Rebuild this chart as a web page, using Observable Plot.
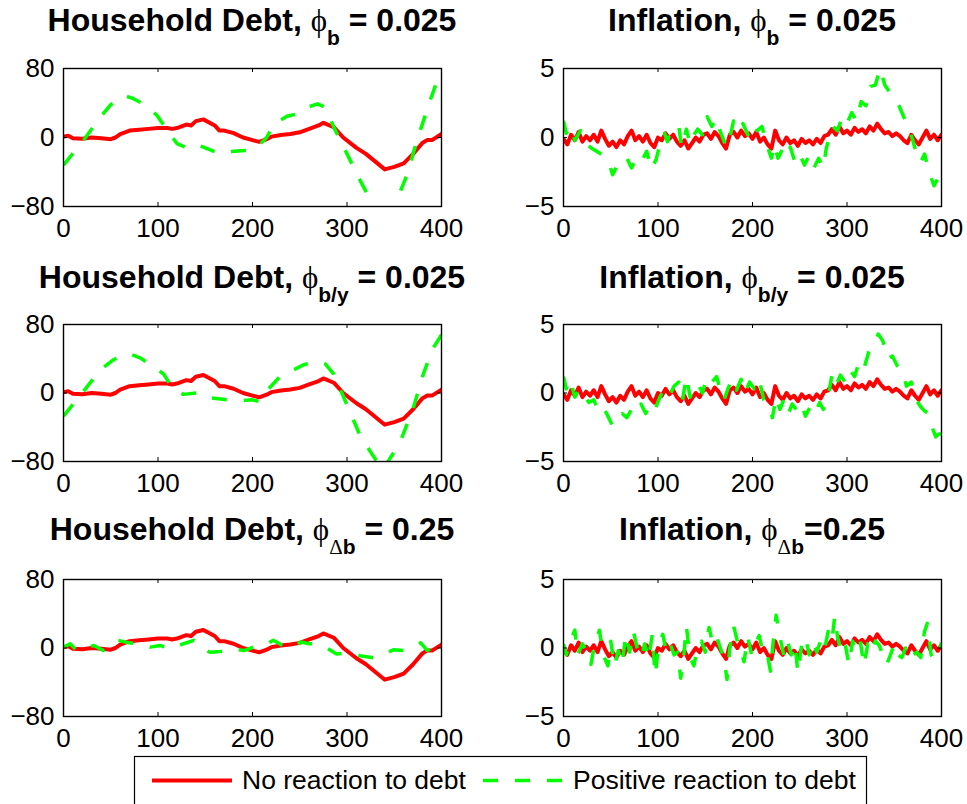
<!DOCTYPE html>
<html><head><meta charset="utf-8">
<script src="https://cdn.jsdelivr.net/npm/d3@7"></script>
<script src="https://cdn.jsdelivr.net/npm/@observablehq/plot@0.6"></script>
<style>
body{margin:0;background:#fff;}
#root{position:relative;width:967px;height:804px;overflow:hidden;background:#fff;}
.panel{position:absolute;}
#overlay{position:absolute;left:0;top:0;pointer-events:none;}
#overlay text{white-space:pre;}
</style></head><body><div id="root"></div>
<script>
// ---------- data ----------
const xTicks = [0, 100, 200, 300, 400];
const debtTicks = [-80, 0, 80];
const inflTicks = [-5, 0, 5];
const seriesNames = ["No reaction to debt", "Positive reaction to debt"];

// Household debt, no reaction (same in all rows)
const redDebtT = [0,5,10,20,30,40,50,55,60,70,80,90,100,110,115,120,130,135,140,148,160,165,170,180,190,200,207,215,220,230,240,250,260,270,275,286,296,310,320,330,340,350,360,370,380,385,390,400];
const redDebtV = [1,2,-1,-1.5,0,-1,-2,0,4,8,9,10,11,11,10,11,15,14,19,21,14,8,8,5,0,-3,-5,-2,1,3,4,6,10,14,17,12,0,-12,-19,-28,-37,-34,-30,-19,-6,-3,-3,4];

// Household debt, positive reaction: phi_b
const gDebt1T = [0,21,39,50,64,74,88,99,110,120,129,138,152,166,180,194,205,215,223,237,247,258,269,277,286,300,314,325,340,350,364,374,388,400];
const gDebt1V = [-32,-3.5,23.5,38,48.7,45,37,25.5,8,-7,-11,-7,-13,-19,-16,-15,-11,0,16,25,27,35,39,35,12,-19,-50,-73,-105,-80,-42,-3.5,43,80];
// phi_b/y
const gDebt2T = [0,23,39,53,69,81,95,106,116,127,144,155,173,187,200,207,215,229,240,254,268,277,286,300,314,328,338,344,356,370,381,391,400];
const gDebt2V = [-27,4.5,27,39,46,41,31,22,4.5,-1.6,0.4,-5.7,-7.8,-9,-8,-10,2.4,19,25,33,37,34,22,-14,-50,-74,-90,-79,-58,-18,23,52,68];
// phi_delta_b
const gDebt3T = [0,7,14,24,32,42,50,58,69,81,92,102,113,127,138,145,155,166,180,191,201,212,222,230,237,244,251,260,268,277,289,300,314,328,340,349,360,370,378,385,392,400];
const gDebt3V = [1,5,-3,0,3,-3,2,9,6,5,1,3,-1,5,9,1,-5,-4,-1,-3,1,3,9,4,1,1,7,5,5,1,-7,-6,-9,-11.5,-7,-2,-3,2,6,-3,1,5];

// Inflation, no reaction (same in all rows)
const redInflT = [0,4,8,12,16,20,24,28,32,36,40,44,48,52,56,60,64,68,72,76,80,84,88,92,96,100,104,108,112,116,120,124,128,132,136,140,144,148,152,156,160,164,168,172,176,180,184,188,192,196,200,204,208,212,216,220,224,228,232,236,240,244,248,252,256,260,264,268,272,276,280,284,288,292,296,300,304,308,312,316,320,324,328,332,336,340,344,348,352,356,360,364,368,372,376,380,384,388,392,396,400];
const redInflV = [-0.1,-0.5,0.2,-0.2,0.4,-0.3,0.1,-0.2,0.2,-0.3,
  0.5,-0.1,-0.6,-0.3,-0.7,-0.2,-0.5,0.1,0.5,-0.2,
  0.1,-0.3,0.2,-0.4,-0.7,0,-0.2,0.3,-0.1,0.2,
  -0.3,-0.6,-0.2,-0.8,-0.4,0,-0.3,0.2,0.3,-0.1,
  0.4,0.1,-0.4,-0.8,0.2,0.4,0,0.5,0.1,0.3,
  -0.1,0.4,-0.3,0,-0.5,-0.8,0.5,-0.2,-0.5,0,
  -0.4,-0.2,-0.6,-0.1,-0.4,-0.2,-0.5,-0.1,-0.4,0.1,
  0.2,0.6,0.2,0.8,0.3,0.5,0.2,0.7,0.4,0.6,
  0.3,0.8,0.5,1.0,0.6,0.3,0.4,0.1,0.3,0.1,
  -0.2,-0.4,0.2,-0.2,-0.5,0,0.5,-0.1,0.2,-0.2,
  0.2];

// Inflation, positive reaction: phi_b
const gInfl1T = [0,3,7,12,18,25,30,35,42,48,52,57,62,67,72,77,82,88,93,98,102,107,110,113,117,122,125,130,134,138,142,147,152,157,162,165,170,173,177,180,185,190,195,200,205,210,215,220,223,227,232,237,240,245,250,255,260,265,270,275,278,280,285,290,295,300,305,310,315,320,325,330,335,340,345,350,355,360,365,370,375,378,382,387,392,396,400];
const gInfl1V = [1.2,0.3,0.8,-0.2,0.5,-0.5,-0.8,-1,-1.3,-1.8,-2.7,-2,-2,-1.5,-2.2,-1.5,-1.8,-1,-2.3,-1.6,-0.5,0.3,-0.3,0.5,0.5,0.8,-0.7,0.6,-0.5,0.2,0.6,0.2,1.5,0.8,1.4,0.6,-0.3,-0.7,0.3,1.2,0.5,1,0.2,1,0.5,0.8,-0.5,-1.5,-0.5,-1.5,-0.8,-1.3,-0.7,-1.8,-1.2,-2,-1.3,-2.2,-1.5,-2.2,-0.8,-0.3,0.8,0.5,1.5,1,1.8,1.2,2.6,2.3,3.7,3.8,5,3.8,3.3,2.8,2.3,1.5,0.8,-0.3,-1.6,-1.8,-1.2,-2.5,-3.5,-3,-3.7];
// phi_b/y
const gInfl2T = [0,3,7,12,17,22,27,32,37,42,47,52,57,62,67,72,77,82,87,92,97,102,107,112,117,122,126,130,134,138,142,147,152,157,162,166,170,174,178,183,188,192,197,202,207,212,217,221,225,229,233,238,242,247,252,256,261,266,271,275,280,284,288,293,298,303,308,313,318,323,328,333,338,343,348,353,358,363,368,373,378,382,386,390,394,397,400];
const gInfl2V = [1.2,0.3,1,-0.3,0.3,-0.2,-0.7,-0.5,-1.3,-1,-1.7,-2.4,-1.8,-1.5,-1.8,-1.2,-1.5,-0.8,-1.5,-0.8,-1.2,-0.3,0.3,-0.2,0.5,0.8,-0.5,1.2,-0.3,0.3,0.7,0,1.2,0.8,1.2,0.2,-0.5,0.3,1,0.2,1,0,0.8,0.3,1,-0.5,-0.8,-1.8,-0.3,-1.2,-0.5,-1.5,-0.8,-1.3,-0.8,-1.7,-1,-1.5,-0.7,-1.2,-0.3,1.3,0.5,1.3,0.8,1.7,1.2,2.3,1.8,3,3.5,4.3,3.8,2.5,2.7,2,1.7,0.5,0.8,-0.5,-1,-1.3,-1.5,-2.5,-3.2,-3,-3];
// phi_delta_b
const gInfl3T = [0,3,7,12,15,20,25,29,33,38,42,47,50,54,58,62,66,70,74,78,82,86,90,94,97,101,105,109,113,117,121,124,127,130,134,138,142,146,150,154,158,162,166,170,173,176,180,184,188,191,195,199,203,207,211,215,219,222,225,229,233,237,241,245,248,252,256,260,264,268,272,276,280,284,287,290,294,298,302,306,310,314,318,322,326,330,334,338,342,346,350,354,358,362,366,370,374,378,382,385,389,392,396,400];
const gInfl3V = [0.3,-0.5,0.5,1.3,-0.5,0.3,-0.3,-1.2,0.3,1.3,-0.5,-1.3,0.5,-1.3,-0.2,-1.2,1,-0.3,1.2,0,-0.7,0.3,-0.8,1,-2,0.3,1,-0.3,0.3,-0.5,-0.3,-2.2,-0.8,1.6,-0.7,-1.3,0.2,0.5,-0.3,1.5,0.3,0.8,0,-0.8,-2.3,0,1.6,0.5,-0.3,-1,0.8,-0.5,0.3,0.9,-0.3,-0.2,-1.7,0.5,2.4,0.8,-0.5,0.5,-0.5,0.3,-1.8,0.2,0.8,-0.5,0.5,-0.3,0.5,-0.2,1.2,0.5,2.3,0.8,-0.3,0.3,-1.2,0.5,-0.2,0.5,-1.3,0.3,-0.3,0.5,0.2,-0.5,-1.2,-0.5,0.3,-0.5,-0.7,0,-0.8,-0.5,-0.3,-0.7,1.2,1.8,-0.5,-0.8,-0.7,0.4];

// ---------- helpers ----------
const FONT = '"Liberation Sans", Arial, Helvetica, sans-serif';
const GREEK = '"Liberation Serif", "DejaVu Serif", serif';
const RED = "#ff0000", GREEN = "#00ff00";
const zip = (T, V) => T.map((t, i) => ({t, v: V[i]}));
const minusFmt = d => (d < 0 ? "\u2212" + Math.abs(d) : String(d));

const root = document.getElementById("root");

function panel({left, top, width, mL, mR, frameH, yDomain, yTicks, red, green}) {
  const mT = 18, mB = 40;
  const height = mT + frameH + mB;
  const fw = width - mL - mR;
  const chart = Plot.plot({
    width, height,
    marginLeft: mL, marginRight: mR, marginTop: mT, marginBottom: mB,
    style: {fontFamily: FONT, fontSize: "26px", background: "transparent", overflow: "visible", color: "black"},
    x: {domain: [0, 400], ticks: xTicks, label: null},
    y: {domain: yDomain, ticks: yTicks, label: null},
    marks: [
      Plot.line(red, {x: "t", y: "v", stroke: RED, strokeWidth: 4, clip: true}),
      Plot.line(green, {x: "t", y: "v", stroke: GREEN, strokeWidth: 3.5, strokeDasharray: "15,17", strokeLinecap: "butt", clip: true}),
      Plot.frame({stroke: "black", strokeWidth: 1.4}),
      Plot.tickX(xTicks, {x: d => d, insetTop: frameH - 4, stroke: "black"}),
      Plot.tickX(xTicks, {x: d => d, insetBottom: frameH - 4, stroke: "black"}),
      Plot.tickY(yTicks, {y: d => d, insetRight: fw - 4, stroke: "black"}),
      Plot.tickY(yTicks, {y: d => d, insetLeft: fw - 4, stroke: "black"}),
      Plot.axisX(xTicks, {tickSize: 0, tickPadding: 12, fontSize: 26, tickFormat: d => String(d), fill: "black"}),
      Plot.axisY(yTicks, {tickSize: 0, tickPadding: 9, fontSize: 26, tickFormat: minusFmt, fill: "black"})
    ]
  });
  const div = document.createElement("div");
  div.className = "panel";
  div.style.left = left + "px";
  div.style.top = top + "px";
  div.style.width = width + "px";
  div.appendChild(chart);
  root.appendChild(div);
}

const rows = [
  {top: 50, frameH: 138, gDebt: zip(gDebt1T, gDebt1V), gInfl: zip(gInfl1T, gInfl1V)},
  {top: 306, frameH: 137, gDebt: zip(gDebt2T, gDebt2V), gInfl: zip(gInfl2T, gInfl2V)},
  {top: 561, frameH: 137, gDebt: zip(gDebt3T, gDebt3V), gInfl: zip(gInfl3T, gInfl3V)}
];
const redDebt = zip(redDebtT, redDebtV);
const redInfl = zip(redInflT, redInflV);

rows.forEach(r => {
  panel({left: 0, top: r.top, width: 480, mL: 63, mR: 39, frameH: r.frameH,
         yDomain: [-80, 80], yTicks: debtTicks, red: redDebt, green: r.gDebt});
  panel({left: 480, top: r.top, width: 487, mL: 83, mR: 26, frameH: r.frameH,
         yDomain: [-5, 5], yTicks: inflTicks, red: redInfl, green: r.gInfl});
});

// ---------- titles & legend ----------
const ov = d3.select("#root").append("svg").attr("id", "overlay")
  .attr("width", 967).attr("height", 804);

const titles = [
  {cx: 252, by: 31, main: "Household Debt, ", sub: [["b", true]], rest: " = 0.025"},
  {cx: 752, by: 31, main: "Inflation, ", sub: [["b", true]], rest: " = 0.025"},
  {cx: 252, by: 288, main: "Household Debt, ", sub: [["b/y", true]], rest: " = 0.025"},
  {cx: 752, by: 288, main: "Inflation, ", sub: [["b/y", true]], rest: " = 0.025"},
  {cx: 252, by: 540, main: "Household Debt, ", sub: [["\u0394", false], ["b", true]], rest: " = 0.25"},
  {cx: 752, by: 540, main: "Inflation, ", sub: [["\u0394", false], ["b", true]], rest: "=0.25"}
];
titles.forEach(o => {
  const t = ov.append("text").attr("x", o.cx).attr("y", o.by)
    .attr("text-anchor", "middle").attr("font-family", FONT)
    .attr("font-weight", "bold").attr("font-size", 32).attr("fill", "black");
  t.append("tspan").text(o.main);
  t.append("tspan").attr("font-weight", "normal").attr("font-family", GREEK).attr("font-size", 31).text("\u03D5");
  o.sub.forEach(([s, bold], i) => {
    const sp = t.append("tspan").attr("font-size", 21)
      .attr("font-weight", bold ? "bold" : "normal");
    if (!bold) sp.attr("font-family", GREEK);
    if (i === 0) sp.attr("dy", 14);
    sp.text(s);
  });
  t.append("tspan").attr("dy", -14).text(o.rest);
});

// legend
const lg = ov.append("g");
lg.append("rect").attr("x", 134.5).attr("y", 756.5).attr("width", 732).attr("height", 80)
  .attr("fill", "white").attr("stroke", "black").attr("stroke-width", 1.2);
lg.append("line").attr("x1", 152).attr("x2", 232).attr("y1", 780.5).attr("y2", 780.5)
  .attr("stroke", RED).attr("stroke-width", 4);
lg.append("text").attr("x", 242).attr("y", 789).attr("font-family", FONT)
  .attr("font-size", 26.5).attr("fill", "black").text(seriesNames[0]);
lg.append("line").attr("x1", 483).attr("x2", 564).attr("y1", 780.5).attr("y2", 780.5)
  .attr("stroke", GREEN).attr("stroke-width", 3.5).attr("stroke-dasharray", "15,17");
lg.append("text").attr("x", 573).attr("y", 789).attr("font-family", FONT)
  .attr("font-size", 26.5).attr("fill", "black").text(seriesNames[1]);
</script>
</body></html>
